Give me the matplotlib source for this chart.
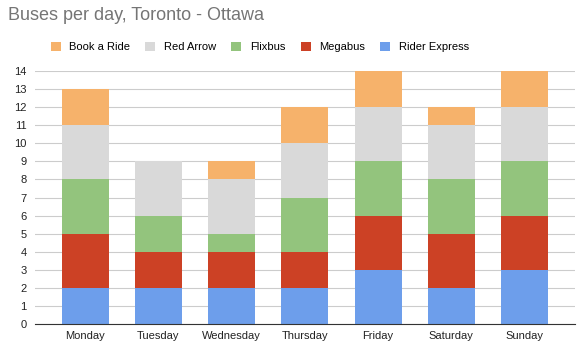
import numpy as np
import matplotlib.pyplot as plt
from matplotlib.patches import Patch

days = ["Monday", "Tuesday", "Wednesday", "Thursday", "Friday", "Saturday", "Sunday"]
rider_express = [2, 2, 2, 2, 3, 2, 3]
megabus = [3, 2, 2, 2, 3, 3, 3]
flixbus = [3, 2, 1, 3, 3, 3, 3]
red_arrow = [3, 3, 3, 3, 3, 3, 3]
book_a_ride = [2, 0, 1, 2, 2, 1, 2]

series = [("Rider Express", rider_express, "#6d9eeb"),
          ("Megabus", megabus, "#cc4125"),
          ("Flixbus", flixbus, "#93c47d"),
          ("Red Arrow", red_arrow, "#d9d9d9"),
          ("Book a Ride", book_a_ride, "#f6b26b")]

plt.rcParams['font.family'] = ['Liberation Sans', 'DejaVu Sans']

fig = plt.figure(figsize=(5.83, 3.54), dpi=100)
ax = fig.add_axes([0.060, 0.085, 0.926, 0.714])

x = np.arange(len(days))
bottom = np.zeros(len(days))
for name, vals, col in series:
    ax.bar(x, vals, 0.64, bottom=bottom, color=col, label=name, zorder=3)
    bottom += np.array(vals)

ax.set_xlim(-0.685, len(days) - 1 + 0.685)
ax.set_ylim(0, 14)
ax.set_yticks(range(0, 15))
ax.set_xticks(x)
ax.set_xticklabels(days)
ax.grid(axis='y', color='#cccccc', linewidth=0.8, zorder=0)
ax.tick_params(axis='both', length=0, labelsize=8, colors='#222222')
ax.tick_params(axis='y', pad=6)
ax.tick_params(axis='x', pad=5)
for s in ['top', 'right', 'left']:
    ax.spines[s].set_visible(False)
ax.spines['bottom'].set_color('#333333')
ax.spines['bottom'].set_zorder(4)

fig.text(0.014, 0.955, "Buses per day, Toronto - Ottawa", fontsize=13,
         color='#757575', va='center', ha='left')

handles = [Patch(facecolor=c, label=n) for n, v, c in series[::-1]]
fig.legend(handles=handles, loc='center', bbox_to_anchor=(0.446, 0.868), ncol=5,
           frameon=False, fontsize=8, handlelength=0.9, handleheight=0.9,
           handletextpad=0.8, columnspacing=1.35)

fig.savefig("out.png", dpi=100)
